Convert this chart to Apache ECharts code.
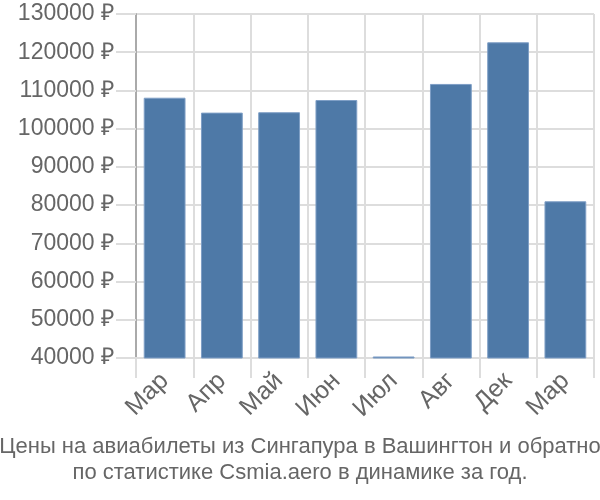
<!DOCTYPE html>
<html><head><meta charset="utf-8">
<script src="https://cdn.jsdelivr.net/npm/echarts@6/dist/echarts.min.js"></script>
<style>html,body{margin:0;padding:0;background:#fff}#c{width:600px;height:500px}</style>
</head><body><div id="c"></div>
<script>
const categories = ['Мар','Апр','Май','Июн','Июл','Авг','Дек','Мар'];
const prices = [108100, 104200, 104300, 107500, 40400, 111700, 122600, 81000];
const yTicks = {min: 40000, max: 130000, interval: 10000};
const titleLines = ['Цены на авиабилеты из Сингапура в Вашингтон и обратно', 'по статистике Csmia.aero в динамике за год.'];

const FONT = '"Liberation Sans", Arial, sans-serif';
const chart = echarts.init(document.getElementById('c'), null, {renderer: 'canvas'});
chart.setOption({
  animation: false,
  textStyle: {fontFamily: FONT},
  title: {
    text: titleLines.join('\n'),
    left: 'center', bottom: 9,
    textStyle: {fontFamily: FONT, fontSize: 22, fontWeight: 'normal', color: '#666', lineHeight: 26}
  },
  grid: {left: 136, right: 6, top: 14, bottom: 142, containLabel: false},
  xAxis: {
    type: 'category', data: categories,
    axisLine: {show: true, lineStyle: {color: '#ddd', width: 2}},
    axisTick: {show: true, length: 20, interval: 0, lineStyle: {color: '#ddd', width: 2}},
    splitLine: {show: true, interval: 0, lineStyle: {color: '#ddd', width: 2}},
    axisLabel: {rotate: 45, interval: 0, margin: 19, fontSize: 25, color: '#666', fontFamily: FONT}
  },
  yAxis: {
    type: 'value', min: yTicks.min, max: yTicks.max, interval: yTicks.interval,
    axisLine: {show: true, lineStyle: {color: '#aaa', width: 2}},
    axisTick: {show: true, length: 20, lineStyle: {color: '#ddd', width: 2}},
    splitLine: {show: true, lineStyle: {color: '#ddd', width: 2}},
    axisLabel: {formatter: function (v) { return String(v) + ' ₽'; }, margin: 22, fontSize: 23, color: '#666', fontFamily: FONT}
  },
  series: [{
    type: 'bar', data: prices, barCategoryGap: '27%',
    itemStyle: {color: '#4e79a7', borderColor: '#7f9fc6', borderWidth: 1}
  }]
});
</script></body></html>
